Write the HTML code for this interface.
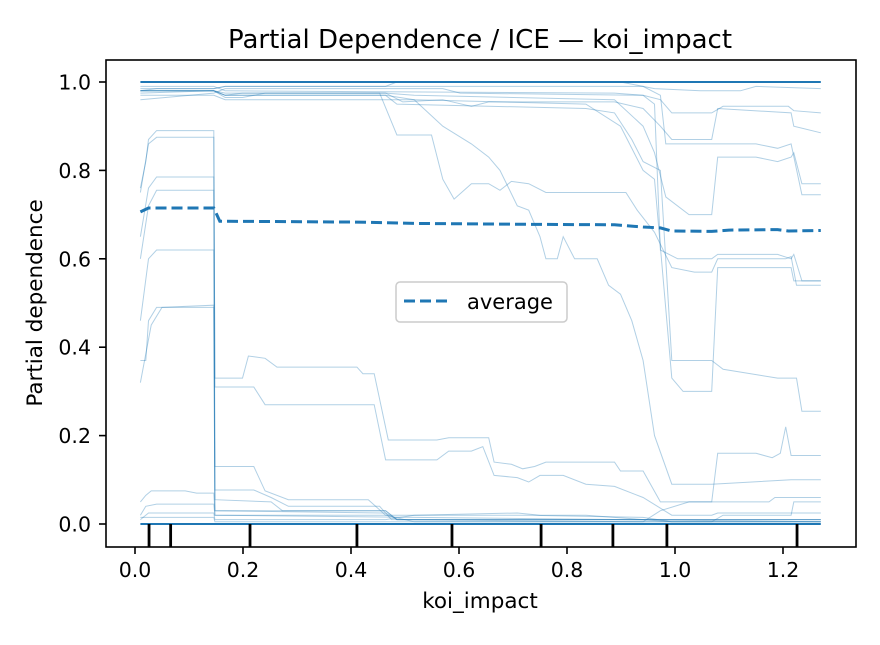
<!DOCTYPE html>
<html><head><meta charset="utf-8"><style>
body{margin:0;background:#fff;}
svg text{font-family:"DejaVu Sans","Liberation Sans",sans-serif;fill:#000;}
</style></head><body>
<svg id="chart" width="880" height="640" xmlns="http://www.w3.org/2000/svg">
<rect width="880" height="640" fill="#fff"/>
<text x="480" y="48" font-size="26" text-anchor="middle">Partial Dependence / ICE — koi_impact</text>
<g id="plot"></g>
<rect x="106" y="60" width="750" height="487" fill="none" stroke="#000" stroke-width="1.6"/>
<g id="axes"></g>
<text x="480" y="608" font-size="21.5" text-anchor="middle">koi_impact</text>
<text transform="translate(42,303) rotate(-90)" font-size="21.5" text-anchor="middle">Partial dependence</text>
<g>
<rect x="396" y="282" width="171" height="40" rx="4" fill="#fff" fill-opacity="0.85" stroke="#ccc" stroke-width="1.5"/>
<line x1="404" y1="301" x2="450" y2="301" stroke="#1f77b4" stroke-width="3" stroke-dasharray="11,5"/>
<text x="467" y="309" font-size="21">average</text>
</g>
</svg>
<script>
const xTicks=[0,0.2,0.4,0.6,0.8,1.0,1.2];
const xTickLabels=["0.0","0.2","0.4","0.6","0.8","1.0","1.2"];
const yTicks=[0,0.2,0.4,0.6,0.8,1.0];
const yTickLabels=["0.0","0.2","0.4","0.6","0.8","1.0"];
const rugValues=[0.026,0.066,0.213,0.411,0.587,0.752,0.885,0.985,1.226];
const iceTop=[[0.01,1],[1.27,1]];
const iceZero=[[0.01,0],[1.27,0]];
const iceLines=[
[[0.01,0.98],[0.04,0.985],[0.146,0.985],[0.167,0.99],[0.464,0.99],[0.485,1.0],[0.899,1.0],[0.962,0.985],[1.047,0.98],[1.121,0.98],[1.15,0.99],[1.27,0.985]],
[[0.01,0.975],[0.146,0.98],[0.167,0.965],[0.199,0.965],[0.241,0.975],[0.464,0.975],[0.496,0.955],[0.57,0.96],[0.623,0.945],[0.655,0.955],[0.888,0.955],[0.941,0.94],[0.973,0.9],[0.994,0.87],[1.068,0.87],[1.079,0.94],[1.215,0.93],[1.22,0.9],[1.27,0.885]],
[[0.01,0.96],[0.146,0.975],[0.167,0.985],[0.57,0.985],[0.602,0.975],[0.941,0.97],[0.973,0.96],[0.994,0.93],[1.068,0.93],[1.089,0.945],[1.21,0.945],[1.22,0.935],[1.27,0.93]],
[[0.01,0.98],[0.146,0.98],[0.167,0.975],[0.464,0.975],[0.517,0.97],[0.888,0.96],[0.941,0.9],[0.962,0.84],[0.983,0.74],[1.026,0.70],[1.068,0.70],[1.079,0.83],[1.15,0.83],[1.19,0.82],[1.215,0.83],[1.22,0.84],[1.235,0.77],[1.27,0.77]],
[[0.01,0.98],[0.146,0.98],[0.167,0.97],[0.199,0.975],[0.453,0.975],[0.485,0.88],[0.549,0.88],[0.57,0.78],[0.591,0.735],[0.623,0.77],[0.655,0.77],[0.676,0.755],[0.697,0.775],[0.729,0.77],[0.761,0.75],[0.909,0.75],[0.93,0.71],[0.962,0.66],[0.994,0.58],[1.036,0.57],[1.068,0.57],[1.079,0.6],[1.205,0.6],[1.215,0.605],[1.225,0.54],[1.27,0.54]],
[[0.01,0.98],[0.146,0.98],[0.167,0.97],[0.464,0.97],[0.485,0.95],[0.835,0.94],[0.888,0.93],[0.92,0.87],[0.941,0.82],[0.973,0.8],[0.994,0.37],[1.068,0.37],[1.089,0.35],[1.19,0.33],[1.225,0.33],[1.235,0.255],[1.27,0.255]],
[[0.01,0.97],[0.146,0.97],[0.167,0.96],[0.517,0.96],[0.835,0.95],[0.899,0.9],[0.941,0.8],[0.962,0.78],[0.994,0.33],[1.015,0.3],[1.068,0.3],[1.079,0.58],[1.215,0.58],[1.22,0.55],[1.27,0.55]],
[[0.01,0.98],[0.146,0.98],[0.167,0.97],[0.464,0.97],[0.517,0.96],[0.57,0.9],[0.623,0.86],[0.655,0.83],[0.676,0.8],[0.708,0.72],[0.729,0.71],[0.75,0.65],[0.761,0.6],[0.782,0.6],[0.793,0.65],[0.814,0.6],[0.856,0.6],[0.877,0.54],[0.899,0.52],[0.92,0.46],[0.941,0.37],[0.962,0.2],[0.994,0.09],[1.068,0.09],[1.215,0.1],[1.27,0.1]],
[[0.01,0.99],[0.146,0.99],[0.167,0.98],[0.888,0.975],[0.941,0.97],[0.962,0.95],[0.973,0.62],[1.005,0.6],[1.068,0.6],[1.079,0.61],[1.19,0.61],[1.215,0.6],[1.22,0.61],[1.235,0.55],[1.27,0.55]],
[[0.01,0.985],[0.146,0.985],[0.167,0.99],[0.941,0.99],[0.973,0.97],[0.983,0.86],[1.079,0.86],[1.15,0.86],[1.19,0.85],[1.215,0.86],[1.235,0.745],[1.27,0.745]],
[[0.01,0.76],[0.02,0.82],[0.025,0.87],[0.04,0.89],[0.146,0.89],[0.148,0.33],[0.199,0.33],[0.21,0.38],[0.241,0.375],[0.263,0.355],[0.411,0.355],[0.422,0.34],[0.443,0.34],[0.469,0.19],[0.559,0.19],[0.581,0.195],[0.655,0.195],[0.665,0.14],[0.697,0.135],[0.718,0.125],[0.74,0.13],[0.761,0.14],[0.888,0.14],[0.899,0.12],[0.941,0.12],[0.973,0.05],[1.068,0.05],[1.174,0.05],[1.185,0.06],[1.27,0.06]],
[[0.01,0.75],[0.025,0.86],[0.04,0.875],[0.146,0.875],[0.148,0.31],[0.22,0.31],[0.241,0.27],[0.443,0.27],[0.464,0.145],[0.559,0.145],[0.581,0.165],[0.623,0.165],[0.644,0.175],[0.665,0.11],[0.708,0.105],[0.729,0.095],[0.75,0.11],[0.793,0.11],[0.835,0.09],[0.888,0.085],[0.941,0.06],[0.994,0.02],[1.068,0.02],[1.079,0.025],[1.27,0.025]],
[[0.01,0.65],[0.025,0.76],[0.04,0.785],[0.146,0.785],[0.148,0.13],[0.22,0.13],[0.241,0.075],[0.284,0.055],[0.432,0.055],[0.464,0.02],[0.729,0.02],[0.941,0.015],[0.994,0.005],[1.27,0.005]],
[[0.01,0.6],[0.025,0.72],[0.04,0.755],[0.146,0.755],[0.148,0.077],[0.22,0.077],[0.252,0.06],[0.284,0.04],[0.453,0.04],[0.475,0.01],[1.27,0.01]],
[[0.01,0.46],[0.025,0.6],[0.04,0.62],[0.146,0.62],[0.148,0.055],[0.252,0.05],[0.273,0.03],[0.464,0.03],[0.485,0.01],[1.27,0.01]],
[[0.01,0.37],[0.02,0.37],[0.025,0.46],[0.04,0.49],[0.146,0.49],[0.148,0.03],[0.464,0.025],[0.485,0.01],[1.27,0.01]],
[[0.01,0.32],[0.03,0.45],[0.05,0.49],[0.146,0.495],[0.148,0.02],[1.27,0.005]],
[[0.01,0.05],[0.02,0.065],[0.03,0.075],[0.093,0.075],[0.114,0.07],[0.146,0.07],[0.148,0.03],[0.464,0.03],[0.485,0.01],[0.941,0.005],[1.068,0.005],[1.089,0.02],[1.215,0.02],[1.22,0.05],[1.27,0.05]],
[[0.01,0.02],[0.02,0.04],[0.04,0.045],[0.146,0.045],[0.148,0.02],[0.464,0.02],[0.517,0.005],[1.27,0.005]],
[[0.01,0.01],[0.025,0.025],[0.146,0.025],[0.148,0.01],[0.464,0.01],[0.517,0.02],[0.708,0.025],[0.75,0.02],[0.835,0.02],[0.941,0.01],[0.994,0.005],[1.27,0.005]],
[[0.01,0.015],[0.146,0.015],[0.148,0.005],[0.941,0.005],[0.973,0.03],[1.026,0.05],[1.068,0.05],[1.079,0.16],[1.15,0.16],[1.18,0.15],[1.195,0.16],[1.205,0.22],[1.215,0.155],[1.27,0.155]]
];
const averageLine=[[0.01,0.706],[0.025,0.715],[0.146,0.715],[0.157,0.685],[0.411,0.683],[0.517,0.68],[0.729,0.678],[0.888,0.677],[0.941,0.672],[0.973,0.67],[0.994,0.663],[1.068,0.662],[1.1,0.665],[1.19,0.666],[1.21,0.663],[1.27,0.664]];

const NS="http://www.w3.org/2000/svg";
function xs(v){return 135+v*540;}
function ys(v){return 524-v*442;}
function pathD(pts){return pts.map((p,i)=>(i?"L":"M")+xs(p[0]).toFixed(1)+","+ys(p[1]).toFixed(1)).join("");}
const plot=document.getElementById("plot");
const axes=document.getElementById("axes");
iceLines.forEach((ln,i)=>{
  const p=document.createElementNS(NS,"path");
  p.setAttribute("d",pathD(ln));
  p.setAttribute("fill","none");p.setAttribute("stroke","#1f77b4");
  p.setAttribute("stroke-opacity","0.35");p.setAttribute("stroke-width","1");
  
  
  plot.appendChild(p);
});
[iceTop,iceZero].forEach((ln,i)=>{
  const p=document.createElementNS(NS,"path");
  p.setAttribute("d",pathD(ln));
  p.setAttribute("fill","none");p.setAttribute("stroke","#1f77b4");p.setAttribute("stroke-width","2");
  
  
  plot.appendChild(p);
});
const avg=document.createElementNS(NS,"path");
avg.setAttribute("d",pathD(averageLine));
avg.setAttribute("fill","none");avg.setAttribute("stroke","#1f77b4");
avg.setAttribute("stroke-width","3");avg.setAttribute("stroke-dasharray","11,5");


plot.appendChild(avg);
rugValues.forEach((v,i)=>{
  const l=document.createElementNS(NS,"line");
  l.setAttribute("x1",xs(v));l.setAttribute("x2",xs(v));l.setAttribute("y1",524);l.setAttribute("y2",547);
  l.setAttribute("stroke","#000");l.setAttribute("stroke-width","2.8");
  
  
  plot.appendChild(l);
});
xTicks.forEach((v,i)=>{
  const l=document.createElementNS(NS,"line");
  l.setAttribute("x1",xs(v));l.setAttribute("x2",xs(v));l.setAttribute("y1",547);l.setAttribute("y2",554);
  l.setAttribute("stroke","#000");l.setAttribute("stroke-width","1.6");
  
  
  axes.appendChild(l);
  const t=document.createElementNS(NS,"text");
  t.setAttribute("x",xs(v));t.setAttribute("y",577);t.setAttribute("font-size","20.5");t.setAttribute("text-anchor","middle");
  t.textContent=xTickLabels[i];
  
  
  axes.appendChild(t);
});
yTicks.forEach((v,i)=>{
  const l=document.createElementNS(NS,"line");
  l.setAttribute("x1",99);l.setAttribute("x2",106);l.setAttribute("y1",ys(v));l.setAttribute("y2",ys(v));
  l.setAttribute("stroke","#000");l.setAttribute("stroke-width","1.6");
  
  
  axes.appendChild(l);
  const t=document.createElementNS(NS,"text");
  t.setAttribute("x",91);t.setAttribute("y",ys(v)+7.5);t.setAttribute("font-size","20.5");t.setAttribute("text-anchor","end");
  t.textContent=yTickLabels[i];
  
  
  axes.appendChild(t);
});
</script>
</body></html>
